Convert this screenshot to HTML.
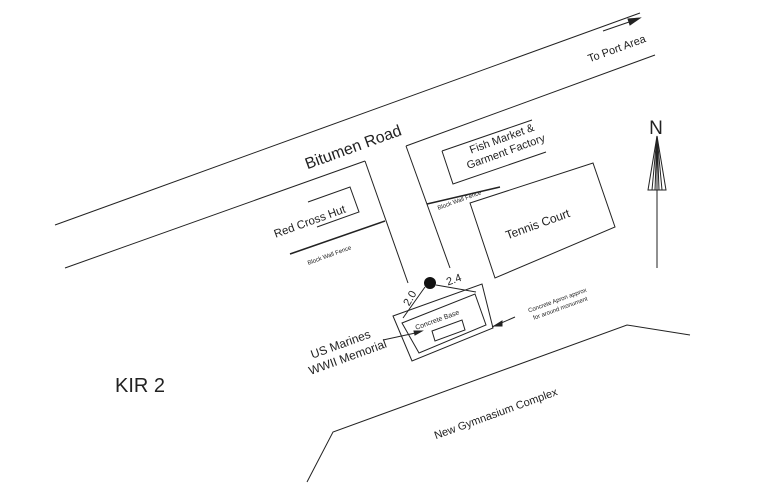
<!DOCTYPE html>
<html><head><style>
body{margin:0;background:#fff}
svg{display:block}
text{font-family:"Liberation Sans",Arial,sans-serif;fill:#222}
</style></head><body>
<svg width="768" height="492" viewBox="0 0 768 492" stroke="#222" fill="none" stroke-width="1">
<line x1="55" y1="225" x2="640" y2="13"/>
<line x1="65" y1="268" x2="365" y2="161"/>
<line x1="406" y1="146" x2="655" y2="55"/>
<line x1="365" y1="161" x2="408" y2="283"/>
<line x1="406" y1="146" x2="450" y2="268"/>
<line x1="603" y1="31" x2="632" y2="21"/>
<polygon points="640,18 628,19 630,25" fill="#222"/>
<polyline points="308,202 350,187 359,212 317,227"/>
<line x1="290" y1="254" x2="385" y2="221" stroke-width="1.5"/>
<polyline points="442,151 532,120"/>
<polyline points="442,151 453,184 546,152"/>
<line x1="427" y1="204" x2="500" y2="187" stroke-width="1.5"/>
<polygon points="470,203 593,163 615,227 495,278"/>
<polygon points="393,316 482,284 493,328 412,361"/>
<polygon points="402,323 475,294 486,325 419,353"/>
<polygon points="432,331 462,320 465,330 435,341"/>
<circle cx="430" cy="283" r="6" fill="#111" stroke="none"/>
<line x1="425" y1="287" x2="403" y2="318"/>
<line x1="436" y1="285" x2="476" y2="292"/>
<line x1="383" y1="340" x2="420" y2="332"/>
<polygon points="422,331 414,331 415,335" fill="#222"/>
<line x1="492" y1="327" x2="515" y2="317"/>
<polygon points="494,326 502,321 502,326" fill="#222"/>
<polyline points="307,482 333,432 627,325 690,335"/>
<line x1="657" y1="140" x2="657" y2="268"/>
<polygon points="657,136 648,190 666,190"/>
<line x1="657" y1="136" x2="652" y2="190"/>
<line x1="657" y1="136" x2="662" y2="190"/>
<line x1="657" y1="136" x2="655" y2="190"/>
<line x1="657" y1="136" x2="659" y2="190"/>
<g stroke="none">
<text x="656" y="134" font-size="19" text-anchor="middle">N</text>
<text x="140" y="392" font-size="20" text-anchor="middle">KIR 2</text>
<text transform="translate(355,152) rotate(-20)" font-size="16" text-anchor="middle">Bitumen Road</text>
<text transform="translate(618,52) rotate(-20)" font-size="11" text-anchor="middle">To Port Area</text>
<text transform="translate(311,225) rotate(-20)" font-size="11.5" text-anchor="middle">Red Cross Hut</text>
<text transform="translate(503,142) rotate(-20)" font-size="11" text-anchor="middle">Fish Market &amp;</text>
<text transform="translate(507,155) rotate(-20)" font-size="11" text-anchor="middle">Garment Factory</text>
<text transform="translate(539,228) rotate(-20)" font-size="12" text-anchor="middle">Tennis Court</text>
<text transform="translate(330,257) rotate(-20)" font-size="6" text-anchor="middle">Block Wall Fence</text>
<text transform="translate(460,202) rotate(-20)" font-size="6" text-anchor="middle">Block Wall Fence</text>
<text transform="translate(438,322) rotate(-20)" font-size="7" text-anchor="middle">Concrete Base</text>
<text transform="translate(558,302) rotate(-20)" font-size="6" text-anchor="middle">Concrete Apron approx</text>
<text transform="translate(561,310) rotate(-20)" font-size="6" text-anchor="middle">for around monument</text>
<text transform="translate(413,300) rotate(-60)" font-size="11" text-anchor="middle">2.0</text>
<text transform="translate(455,283) rotate(-20)" font-size="11" text-anchor="middle">2.4</text>
<text transform="translate(342,348) rotate(-20)" font-size="12" text-anchor="middle">US Marines</text>
<text transform="translate(349,361) rotate(-20)" font-size="12" text-anchor="middle">WWII Memorial</text>
<text transform="translate(497,417) rotate(-20)" font-size="11" text-anchor="middle">New Gymnasium Complex</text>
</g>
</svg>
</body></html>
